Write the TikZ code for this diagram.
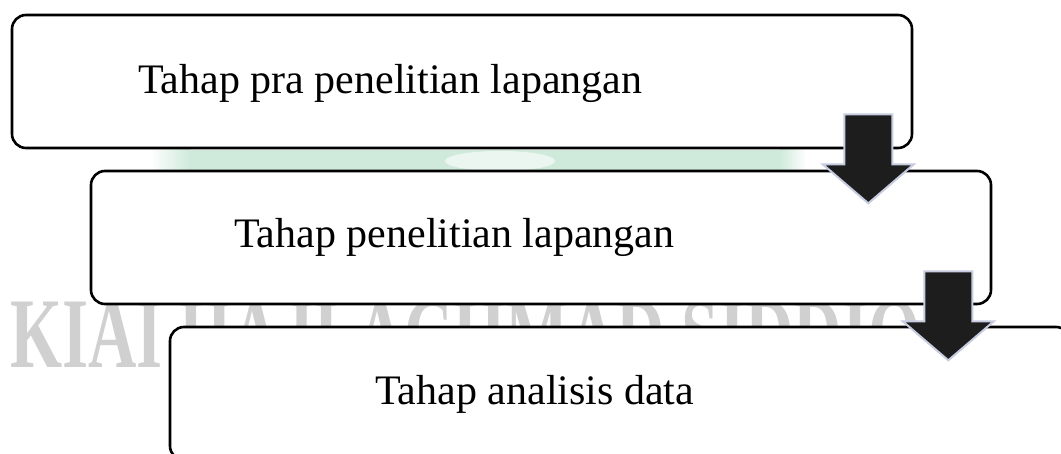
\documentclass[tikz,border=0pt]{standalone}
\usepackage{fontspec}
\setmainfont{Liberation Serif}
\usetikzlibrary{calc}

\definecolor{mint}{HTML}{CFEADB}
\definecolor{markgray}{HTML}{D0D0D0}
\definecolor{arrowfill}{HTML}{1D1D1D}
\definecolor{arrowrim}{HTML}{C6CBE0}

\tikzset{
  stage/.style={draw=black, fill=white, line width=2.6pt, rounded corners=14pt,
    minimum width=900pt, minimum height=133pt, inner sep=0pt},
  stagetext/.style={anchor=base west, inner sep=0pt, font=\fontsize{42}{50}\selectfont},
  sealtext/.style={anchor=base west, inner sep=0pt, text=markgray, xscale=0.67,
    text depth=0pt, font=\bfseries\fontsize{100}{100}\selectfont},
  blockarrow/.pic={
    \filldraw[fill=arrowfill, draw=arrowrim, line width=2pt, line join=miter]
      (-24,0) -- (24,0) -- (24,50) -- (45.5,50) -- (0,89) -- (-45.5,50) -- (-24,50) -- cycle;
  }
}

\begin{document}
\begin{tikzpicture}[x=1pt, y=-1pt]
  \clip (0,0) rectangle (1061,454);
  \fill[white] (0,0) rectangle (1061,454);

  % faint background seal and lettering
  \shade[left color=white, right color=mint] (150,150) rectangle (190,172);
  \fill[mint] (190,150) rectangle (780,172);
  \shade[left color=mint, right color=white] (780,150) rectangle (806,172);
  \fill[white, opacity=0.6] (500,161) ellipse [x radius=55pt, y radius=10pt];
  \node[sealtext] (seal) at (10,368) {KIAI HAJI ACHMAD SIDDIQ};

  % the three stages
  \node[stage] (s1) at (462,81.5) {};
  \node[stage] (s2) at (541,237.5) {};
  \node[stage] (s3) at (620,393.5) {};

  \node[stagetext] (t1) at (138,94) {Tahap pra penelitian lapangan};
  \node[stagetext] (t2) at (234,248) {Tahap penelitian lapangan};
  \node[stagetext] (t3) at (375,405) {Tahap analisis data};

  % block arrows leading from one stage to the next
  \pic at ($(s1.south east)+(-45,-35)$) {blockarrow};
  \pic at ($(s2.south east)+(-44,-34)$) {blockarrow};
\end{tikzpicture}
\end{document}
